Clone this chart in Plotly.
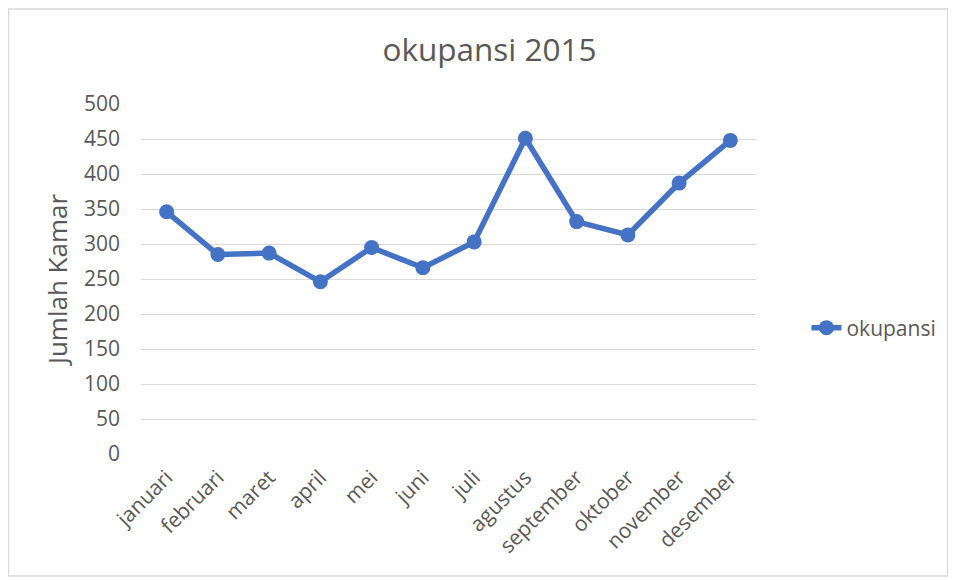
import plotly.graph_objects as go

months = ["januari", "februari", "maret", "april", "mei", "juni", "juli",
          "agustus", "september", "oktober", "november", "desember"]
okupansi = [346, 285, 287, 246, 295, 266, 303, 451, 332, 313, 387, 448]
y_ticks = [0, 50, 100, 150, 200, 250, 300, 350, 400, 450, 500]

# page has an 8px body margin; figure is placed at (8, 8)
OFF = 8
W, H = 956 - OFF, 580 - OFF
L, R, T, B = 141.4, 755.6, 104, 454  # plot area in page pixels

fig = go.Figure()
fig.add_trace(go.Scatter(
    x=months, y=okupansi, name="okupansi", mode="lines+markers",
    line=dict(color="#4472C4", width=5.5),
    marker=dict(color="#4472C4", size=15),
))

def px_x(p):
    return (p - L) / (R - L)

def px_y(p):
    return (B - p) / (B - T)

FONT = "Open Sans, sans-serif"
fig.update_layout(
    width=W, height=H,
    margin=dict(l=L - OFF, r=W - (R - OFF), t=T - OFF, b=H - (B - OFF), pad=0, autoexpand=False),
    paper_bgcolor="white", plot_bgcolor="white",
    font=dict(family=FONT, color="#595959", size=21),
    title=dict(text="okupansi 2015", x=(489.5 - OFF) / W, xref="container", xanchor="center",
               y=1 - (50 - OFF) / H, yref="container", yanchor="middle",
               font=dict(size=31.5, color="#595959", family=FONT)),
    xaxis=dict(range=[-0.5, len(months) - 0.5], showgrid=False, showline=False, tickangle=-45,
               ticks="", automargin=False, ticklabelstandoff=6,
               tickfont=dict(size=21, color="#595959", family=FONT)),
    yaxis=dict(range=[0, 500], tickvals=y_ticks, showgrid=True, gridcolor="#D9D9D9",
               gridwidth=1, zeroline=False, showline=False, ticks="", automargin=False,
               ticklabelstandoff=20,
               title=dict(text="Jumlah Kamar", font=dict(size=26, color="#595959", family=FONT),
                          standoff=8),
               tickfont=dict(size=21, color="#595959", family=FONT)),
    legend=dict(x=px_x(806), y=px_y(328), xanchor="left", yanchor="middle",
                font=dict(size=21, color="#595959", family=FONT), bgcolor="rgba(0,0,0,0)",
                itemwidth=30),
    showlegend=True,
    shapes=[dict(type="rect", xref="paper", yref="paper",
                 x0=px_x(9), x1=px_x(947), y0=px_y(576), y1=px_y(9),
                 line=dict(color="#D9D9D9", width=1.5), fillcolor="rgba(0,0,0,0)")],
)

fig.write_html("out.html")
